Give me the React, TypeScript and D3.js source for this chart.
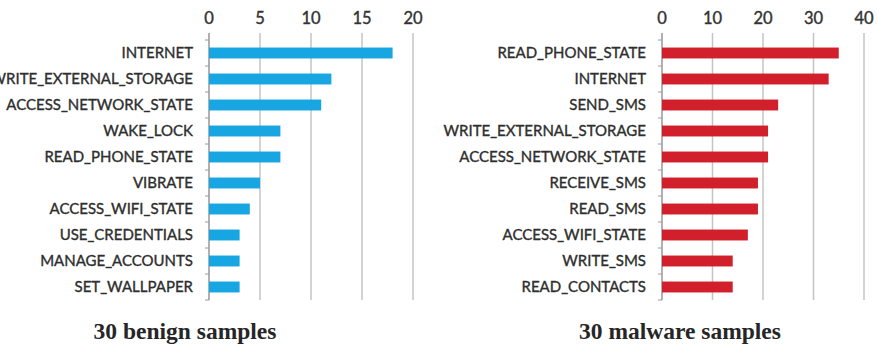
import React from "react";
import * as d3 from "d3";

const benignLabels = [
  "INTERNET",
  "WRITE_EXTERNAL_STORAGE",
  "ACCESS_NETWORK_STATE",
  "WAKE_LOCK",
  "READ_PHONE_STATE",
  "VIBRATE",
  "ACCESS_WIFI_STATE",
  "USE_CREDENTIALS",
  "MANAGE_ACCOUNTS",
  "SET_WALLPAPER",
];
const benignValues = [18, 12, 11, 7, 7, 5, 4, 3, 3, 3];
const benignTicks = [0, 5, 10, 15, 20];

const malwareLabels = [
  "READ_PHONE_STATE",
  "INTERNET",
  "SEND_SMS",
  "WRITE_EXTERNAL_STORAGE",
  "ACCESS_NETWORK_STATE",
  "RECEIVE_SMS",
  "READ_SMS",
  "ACCESS_WIFI_STATE",
  "WRITE_SMS",
  "READ_CONTACTS",
];
const malwareValues = [35, 33, 23, 21, 21, 19, 19, 17, 14, 14];
const malwareTicks = [0, 10, 20, 30, 40];

const titles = ["30 benign samples", "30 malware samples"];

const LABEL_FONT = "Lato, 'Open Sans', sans-serif";

type PanelProps = {
  labels: string[];
  values: number[];
  ticks: number[];
  x0: number;
  x1: number;
  color: string;
  title: string;
  titleX: number;
};

function Panel({ labels, values, ticks, x0, x1, color, title, titleX }: PanelProps) {
  const max = ticks[ticks.length - 1];
  const x = d3.scaleLinear().domain([0, max]).range([x0, x1]);
  const y = d3
    .scaleBand<string>()
    .domain(labels)
    .range([40, 300])
    .paddingInner(0.58)
    .paddingOuter(0.29);
  const step = y.step();
  const top = 33;
  const bottom = 300;
  const boundaries = d3.range(labels.length + 1).map((i) => 40 + i * step);
  return (
    <g>
      {ticks.map((t) => (
        <g key={t}>
          <line x1={x(t)} x2={x(t)} y1={top} y2={bottom} stroke="#c4c4c4" strokeWidth={1.5} />
          <text
            x={x(t)}
            y={24}
            textAnchor="middle"
            fontFamily={LABEL_FONT}
            fontSize={16.5}
            fill="#333"
            stroke="#333"
            strokeWidth={0.4}
          >
            {t}
          </text>
        </g>
      ))}
      <line x1={x(0)} x2={x(0)} y1={top} y2={bottom} stroke="#9a9a9a" strokeWidth={1.2} />
      {boundaries.map((b, i) => (
        <line key={i} x1={x(0) - 4} x2={x(0)} y1={b} y2={b} stroke="#9a9a9a" strokeWidth={1} />
      ))}
      {labels.map((l, i) => (
        <g key={l}>
          <rect
            x={x(0)}
            y={y(l)}
            width={x(values[i]) - x(0)}
            height={y.bandwidth()}
            fill={color}
          />
          <text
            x={x(0) - 16}
            y={(y(l) as number) + y.bandwidth() / 2}
            dy="0.36em"
            textAnchor="end"
            fontFamily={LABEL_FONT}
            fontSize={15}
            fill="#2e2e2e"
            stroke="#2e2e2e"
            strokeWidth={0.35}
          >
            {l}
          </text>
        </g>
      ))}
      <text
        x={titleX}
        y={339}
        textAnchor="middle"
        fontFamily="'Liberation Serif', 'Times New Roman', serif"
        fontSize={23.5}
        fontWeight="bold"
        fill="#262626"
      >
        {title}
      </text>
    </g>
  );
}

export default function App() {
  return (
    <svg
      width={877}
      height={349}
      style={{ position: "absolute", left: 0, top: 0, background: "#fff" }}
    >
      <rect width={877} height={349} fill="#fff" />
      <Panel
        labels={benignLabels}
        values={benignValues}
        ticks={benignTicks}
        x0={209}
        x1={413}
        color="#17a6e2"
        title={titles[0]}
        titleX={185}
      />
      <Panel
        labels={malwareLabels}
        values={malwareValues}
        ticks={malwareTicks}
        x0={662}
        x1={864}
        color="#d11f2c"
        title={titles[1]}
        titleX={680}
      />
    </svg>
  );
}
